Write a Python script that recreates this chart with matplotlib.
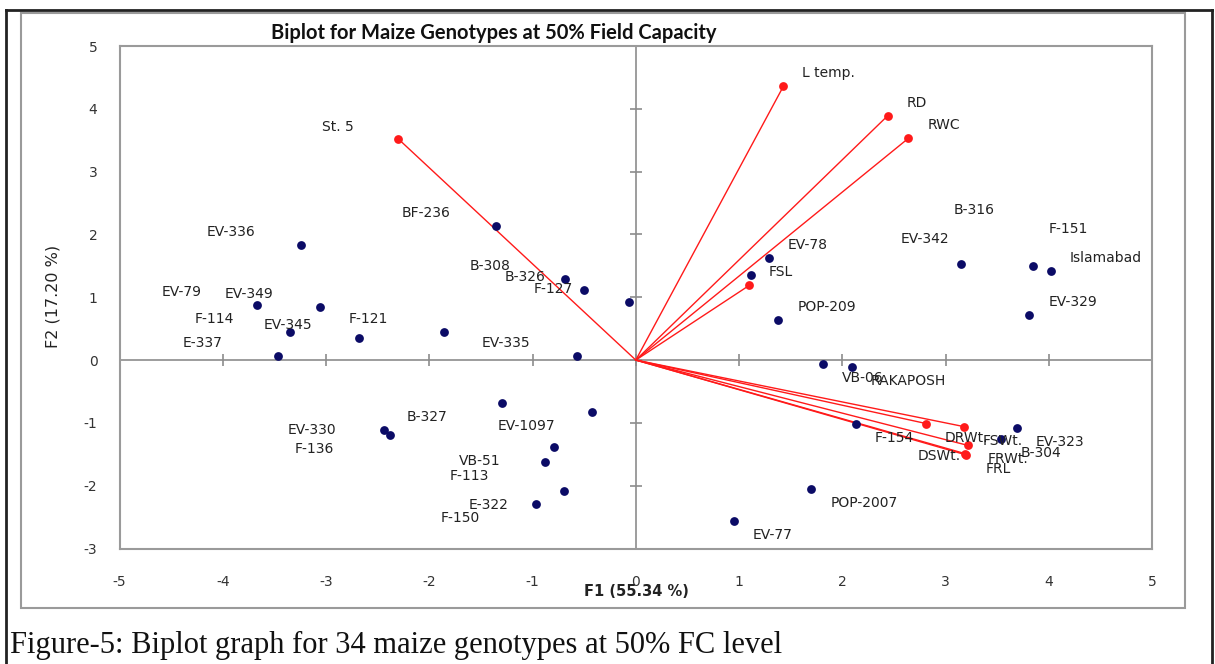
import matplotlib
matplotlib.use("Agg")
import matplotlib.pyplot as plt
from matplotlib.lines import Line2D
from matplotlib.patches import Rectangle

plt.rcParams["axes.unicode_minus"] = False
plt.rcParams["font.family"] = "DejaVu Sans"

# Genotype scores on F1 / F2
genotypes = [
    "EV-336", "BF-236", "EV-79", "EV-349", "F-114", "EV-345", "E-337", "F-121",
    "B-308", "B-326", "F-127", "EV-335",
    "B-327", "EV-330", "F-136", "EV-1097", "VB-51", "F-113", "E-322", "F-150",
    "EV-78", "B-316", "POP-209", "EV-342", "F-151", "Islamabad", "EV-329",
    "VB-06", "RAKAPOSH", "F-154", "EV-323", "B-304", "POP-2007", "EV-77",
]
f1 = [
    -3.24, -1.35, -3.67, -3.06, -3.35, -2.68, -3.47, -1.86,
    -0.69, -0.50, -0.07, -0.57,
    -1.30, -2.44, -2.38, -0.42, -0.79, -0.88, -0.70, -0.97,
    1.29, 1.12, 1.38, 3.15, 3.85, 4.02, 3.81,
    1.81, 2.09, 2.13, 3.69, 3.54, 1.70, 0.95,
]
f2 = [
    1.83, 2.14, 0.88, 0.85, 0.45, 0.35, 0.06, 0.45,
    1.29, 1.11, 0.93, 0.06,
    -0.69, -1.11, -1.19, -0.82, -1.38, -1.63, -2.08, -2.29,
    1.62, 1.36, 0.64, 1.53, 1.50, 1.42, 0.72,
    -0.06, -0.11, -1.02, -1.08, -1.26, -2.05, -2.56,
]

# Variable loadings (drawn as vectors from the origin)
variables = ["St. 5", "L temp.", "RD", "RWC", "FSL",
             "DRWt.", "FSWt.", "DSWt.", "FRWt.", "FRL"]
var_f1 = [-2.30, 1.43, 2.44, 2.64, 1.10, 2.81, 3.18, 3.19, 3.22, 3.20]
var_f2 = [3.52, 4.36, 3.89, 3.53, 1.19, -1.01, -1.06, -1.49, -1.36, -1.51]

xticks = list(range(-5, 6))
yticks = list(range(-3, 6))

# hand-moved labels, offsets in pixels (dx to left edge, dy upwards)
label_shift = {
    "EV-342": (-60, 25),
    "B-316": (202, 65),
    "F-151": (15, 37),
    "B-326": (-80, 13),
    "EV-330": (-96, 0),
    "St. 5": (-76, 12),
    "DSWt.": (-48, -2),
}

W, H = 1215, 664
fig = plt.figure(figsize=(W / 100, H / 100), dpi=100)
ax = fig.add_axes([119.6 / W, 1 - 548.5 / H, (1152 - 119.6) / W, (548.5 - 46) / H])
ax.set_xlim(-5, 5)
ax.set_ylim(-3, 5)
for sp in ax.spines.values():
    sp.set_color("#9a9a9a")
    sp.set_linewidth(1.5)
ax.set_xticks(xticks)
ax.set_yticks(yticks)
ax.tick_params(length=0, labelsize=10, colors="#333333")
ax.tick_params(axis="x", pad=19)
ax.tick_params(axis="y", pad=16)

# axes through the origin with small crossing ticks
gray = "#8c8c8c"
ax.axhline(0, color=gray, lw=1.2, zorder=1)
ax.axvline(0, color=gray, lw=1.2, zorder=1)
ax.plot(xticks, [0] * len(xticks), ls="none", marker="|", ms=9, mew=1.2, color=gray, zorder=1)
ax.plot([0] * len(yticks), yticks, ls="none", marker="_", ms=9, mew=1.2, color=gray, zorder=1)

# variable vectors
red = "#ff1a1a"
for vx, vy in zip(var_f1, var_f2):
    ax.plot([0, vx], [0, vy], color=red, lw=1.0, zorder=2)
ax.scatter(var_f1, var_f2, s=40, color=red, zorder=3, linewidths=0)

# genotypes
ax.scatter(f1, f2, s=40, color="#0b0b66", zorder=3, linewidths=0)


def put_label(name, x, y):
    if name in label_shift:
        dx, dy = label_shift[name]
    else:
        dx = 19 if x > 0 else -95
        dy = 13 if y > 0 else -14
    ax.annotate(name, (x, y), xytext=(dx, dy), textcoords="offset pixels",
                ha="left", va="center", fontsize=10, color="#222222", zorder=4)


for name, x, y in zip(genotypes, f1, f2):
    put_label(name, x, y)
for name, x, y in zip(variables, var_f1, var_f2):
    put_label(name, x, y)

fig.text(494 / W, 1 - 33 / H, "Biplot for Maize Genotypes at 50% Field Capacity",
         ha="center", va="center", fontsize=14.5, weight="bold", family="Lato", color="#111111")
fig.text(636 / W, 1 - 592 / H, "F1 (55.34 %)", ha="center", va="center",
         fontsize=10.5, weight="bold", color="#222222")
fig.text(53 / W, 1 - 296 / H, "F2 (17.20 %)", ha="center", va="center",
         rotation=90, fontsize=11.5, color="#222222")

# chart border and page frame
fig.add_artist(Rectangle((21 / W, 1 - 608 / H), (1185 - 21) / W, (608 - 13) / H,
                         transform=fig.transFigure, fill=False, ec="#9a9a9a", lw=1.5))
dark = "#222222"
fig.add_artist(Line2D([6 / W, 6 / W], [0, 1 - 10 / H], color=dark, lw=2))
fig.add_artist(Line2D([6 / W, 1212 / W], [1 - 10 / H, 1 - 10 / H], color=dark, lw=2))
fig.add_artist(Line2D([1212 / W, 1212 / W], [0, 1 - 10 / H], color=dark, lw=2))

fig.text(10 / W, 1 - 645 / H, "Figure-5: Biplot graph for 34 maize genotypes at 50% FC level",
         ha="left", va="center", fontsize=22, family="Liberation Serif", color="#111111")

fig.savefig("out.png", dpi=100)
